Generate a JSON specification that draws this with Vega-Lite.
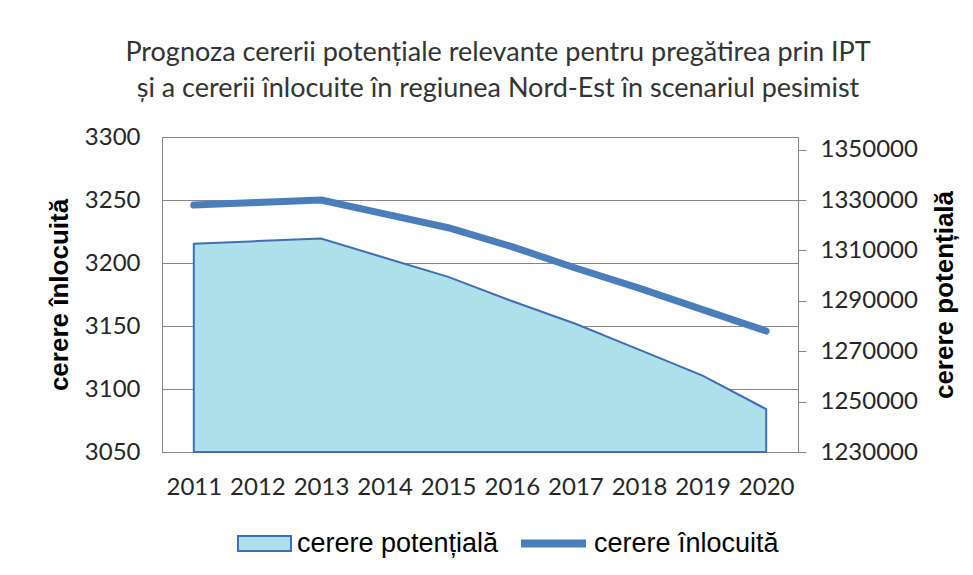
{
  "$schema": "https://vega.github.io/schema/vega-lite/v6.json",
  "width": 636,
  "height": 315,
  "autosize": "none",
  "padding": {"left": 162, "top": 137, "right": 175, "bottom": 123},
  "background": "white",
  "title": {
    "text": ["Prognoza cererii potențiale relevante pentru pregătirea prin IPT", "și a cererii înlocuite în regiunea Nord-Est în scenariul pesimist"],
    "anchor": "middle",
    "frame": "group",
    "font": "Lato",
    "fontSize": 27,
    "fontWeight": "normal",
    "color": "#333333",
    "lineHeight": 36,
    "offset": 22,
    "dx": 18
  },
  "data": {
    "values": [
      {"an": "2011", "potentiala": 1312600, "inlocuita": 3246},
      {"an": "2012", "potentiala": 1313700, "inlocuita": 3248},
      {"an": "2013", "potentiala": 1314700, "inlocuita": 3250},
      {"an": "2014", "potentiala": 1307100, "inlocuita": 3239},
      {"an": "2015", "potentiala": 1299500, "inlocuita": 3228},
      {"an": "2016", "potentiala": 1289900, "inlocuita": 3213},
      {"an": "2017", "potentiala": 1280900, "inlocuita": 3196},
      {"an": "2018", "potentiala": 1270600, "inlocuita": 3180},
      {"an": "2019", "potentiala": 1260300, "inlocuita": 3163},
      {"an": "2020", "potentiala": 1247000, "inlocuita": 3146}
    ]
  },
  "encoding": {
    "x": {
      "field": "an",
      "type": "ordinal",
      "scale": {"type": "point", "padding": 0.5},
      "axis": {
        "title": null,
        "labelAngle": 0,
        "labelFont": "Lato",
        "labelFontSize": 24,
        "labelColor": "#262626",
        "labelPadding": 23,
        "ticks": false,
        "domain": true,
        "domainColor": "#868686",
        "grid": false
      }
    }
  },
  "layer": [
    {
      "mark": {"type": "area", "stroke": "#3F6FB5", "strokeWidth": 2, "strokeJoin": "miter"},
      "encoding": {
        "y": {
          "field": "potentiala",
          "type": "quantitative",
          "scale": {"domain": [1230000, 1355000], "zero": false, "nice": false},
          "axis": {
            "orient": "right",
            "values": [1230000, 1250000, 1270000, 1290000, 1310000, 1330000, 1350000],
            "format": "d",
            "grid": false,
            "domain": true,
            "domainColor": "#868686",
            "ticks": true,
            "tickColor": "#868686",
            "tickSize": 8,
            "labelPadding": 14,
            "labelFont": "Lato",
            "labelFontSize": 24,
            "labelColor": "#262626",
            "title": "cerere potențială",
            "titleFont": "Liberation Sans",
            "titleFontSize": 26,
            "titleFontWeight": "bold",
            "titleColor": "#000000",
            "titleAngle": 270,
            "titleBaseline": "top",
            "titlePadding": 14
          }
        },
        "y2": {"datum": 1230000},
        "fill": {
          "datum": "cerere potențială",
          "type": "nominal",
          "scale": {"range": ["#ade0eb"]},
          "legend": {
            "orient": "none",
            "legendX": 75,
            "legendY": 379,
            "title": null,
            "padding": 0,
            "symbolType": "M-1,-0.28H1V0.28H-1Z",
            "symbolSize": 2809,
            "symbolStrokeColor": "#3F6FB5",
            "symbolStrokeWidth": 2,
            "symbolOpacity": 1,
            "labelFont": "Liberation Sans",
            "labelFontSize": 27,
            "labelColor": "#000000",
            "labelOffset": 5,
            "labelLimit": 0
          }
        }
      }
    },
    {
      "mark": {"type": "line", "strokeWidth": 7, "strokeCap": "round", "strokeJoin": "round"},
      "encoding": {
        "y": {
          "field": "inlocuita",
          "type": "quantitative",
          "scale": {"domain": [3050, 3300], "zero": false, "nice": false},
          "axis": {
            "orient": "left",
            "values": [3050, 3100, 3150, 3200, 3250, 3300],
            "format": "d",
            "grid": true,
            "gridColor": "#868686",
            "gridOpacity": 1,
            "domain": false,
            "ticks": false,
            "tickSize": 0,
            "labelPadding": 22,
            "labelFont": "Lato",
            "labelFontSize": 24,
            "labelColor": "#262626",
            "title": "cerere înlocuită",
            "titleFont": "Liberation Sans",
            "titleFontSize": 26,
            "titleFontWeight": "bold",
            "titleColor": "#000000",
            "titlePadding": 12
          }
        },
        "stroke": {
          "datum": "cerere înlocuită",
          "type": "nominal",
          "scale": {"range": ["#4A7EBB"]},
          "legend": {
            "orient": "none",
            "legendX": 355,
            "legendY": 370,
            "title": null,
            "padding": 0,
            "symbolType": "stroke",
            "symbolSize": 4225,
            "symbolStrokeWidth": 8,
            "labelFont": "Liberation Sans",
            "labelFontSize": 27,
            "labelColor": "#000000",
            "labelOffset": 4,
            "labelLimit": 0
          }
        }
      }
    }
  ],
  "resolve": {"scale": {"y": "independent", "fill": "independent", "stroke": "independent"}},
  "config": {
    "view": {"stroke": "#868686", "strokeWidth": 1}
  }
}
